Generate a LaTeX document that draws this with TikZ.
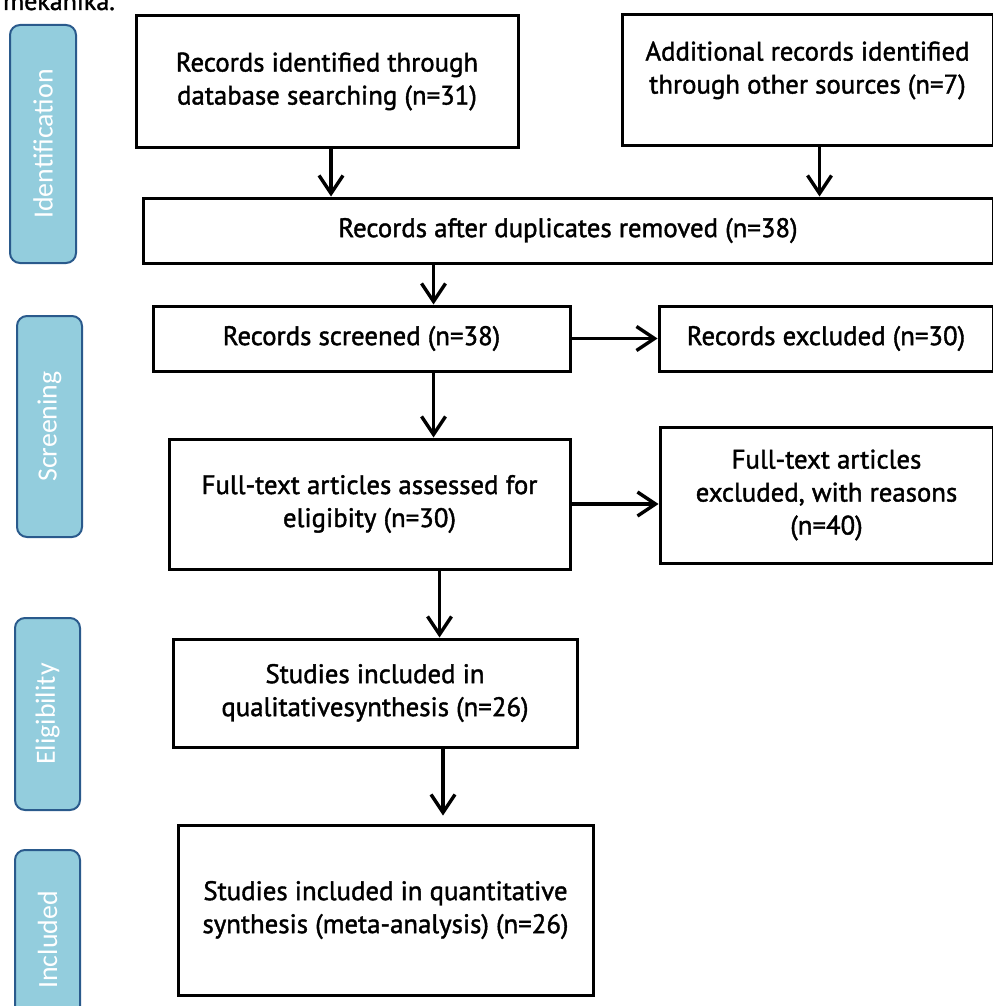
\documentclass[tikz,border=0pt]{standalone}
\usepackage{fontspec}
\setmainfont{PT Sans}[FakeBold=1.5]
\newfontfamily\sidefont{Carlito}
\usetikzlibrary{arrows.meta,positioning}
\definecolor{stage}{HTML}{93CDDD}
\definecolor{stageline}{HTML}{2A5A8C}

\begin{document}
\begin{tikzpicture}[x=0.5pt,y=-0.5pt,
  box/.style={draw,line width=1.5pt,align=center,inner sep=0pt,
    font=\fontsize{13.4}{16.5}\selectfont},
  stagebox/.style={draw=stageline,fill=stage,line width=1pt,rounded corners=5pt,
    rotate=90,inner sep=0pt,text=white,font=\sidefont\fontsize{13.9}{15}\selectfont},
  flow/.style={line width=1.7pt,-{Straight Barb[length=9pt,width=12pt]}}]
  \useasboundingbox (0,0) rectangle (992,1006);
  \node[anchor=base west,font=\fontsize{13}{14}\selectfont] (caption) at (-4,10) {mekanika.};
  % stages on the left
  \node[stagebox,minimum width=119pt,minimum height=33pt] (ident) at (43,144) {Identification};
  \node[stagebox,minimum width=110.5pt,minimum height=32.5pt] (screen) at (49.5,426.5) {Screening};
  \node[stagebox,minimum width=96pt,minimum height=32.5pt] (elig) at (47.5,714) {Eligibility};
  \node[stagebox,minimum width=90pt,minimum height=32.5pt] (incl) at (47.5,940) {Included};
  % flow boxes
  \node[box,minimum width=191pt,minimum height=65.5pt] (dbrec) at (327,81.5)
    {Records identified through\\database searching (n=31)};
  \node[box,minimum width=185.5pt,minimum height=65pt] (otherrec) at (807.5,80)
    {Additional records identified\\through other sources (n=7)\\[-4pt]\mbox{}};
  \node[box,minimum width=425pt,minimum height=32.5pt] (dedup) at (568,230.5)
    {Records after duplicates removed (n=38)};
  \node[box,minimum width=208.5pt,minimum height=32.5pt] (screened) at (361.5,338.5)
    {Records screened (n=38)};
  \node[box,minimum width=167pt,minimum height=32.5pt] (recexcl) at (826,338.5)
    {Records excluded (n=30)};
  \node[box,minimum width=200.5pt,minimum height=65pt] (fulltext) at (369.5,504)
    {Full-text articles assessed for\\eligibity (n=30)};
  \node[box,minimum width=166.5pt,minimum height=68pt] (ftexcl) at (826.5,495)
    {Full-text articles\\excluded, with reasons\\(n=40)};
  \node[box,minimum width=202pt,minimum height=54pt] (qual) at (375,693)
    {Studies included in\\qualitativesynthesis (n=26)};
  \node[box,minimum width=207.5pt,minimum height=85pt] (quant) at (385.5,910)
    {Studies included in quantitative\\synthesis (meta-analysis) (n=26)};
  % arrows
  \draw[flow] ([xshift=2pt]dbrec.south) -- ([xshift=2pt]dbrec.south |- dedup.north);
  \draw[flow] ([xshift=6pt]otherrec.south) -- ([xshift=6pt]otherrec.south |- dedup.north);
  \draw[flow] ([xshift=36pt]screened.north |- dedup.south) -- ([xshift=36pt]screened.north);
  \draw[flow] (screened.east) -- (recexcl.west);
  \draw[flow] ([xshift=36pt]screened.south) -- ([xshift=36pt]screened.south |- fulltext.north);
  \draw[flow] (fulltext.east) -- (fulltext.east -| ftexcl.west);
  \draw[flow] ([xshift=35pt]fulltext.south) -- ([xshift=35pt]fulltext.south |- qual.north);
  \draw[flow,shorten >=4pt] ([xshift=34pt]qual.south) -- ([xshift=34pt]qual.south |- quant.north);
\end{tikzpicture}
\end{document}
